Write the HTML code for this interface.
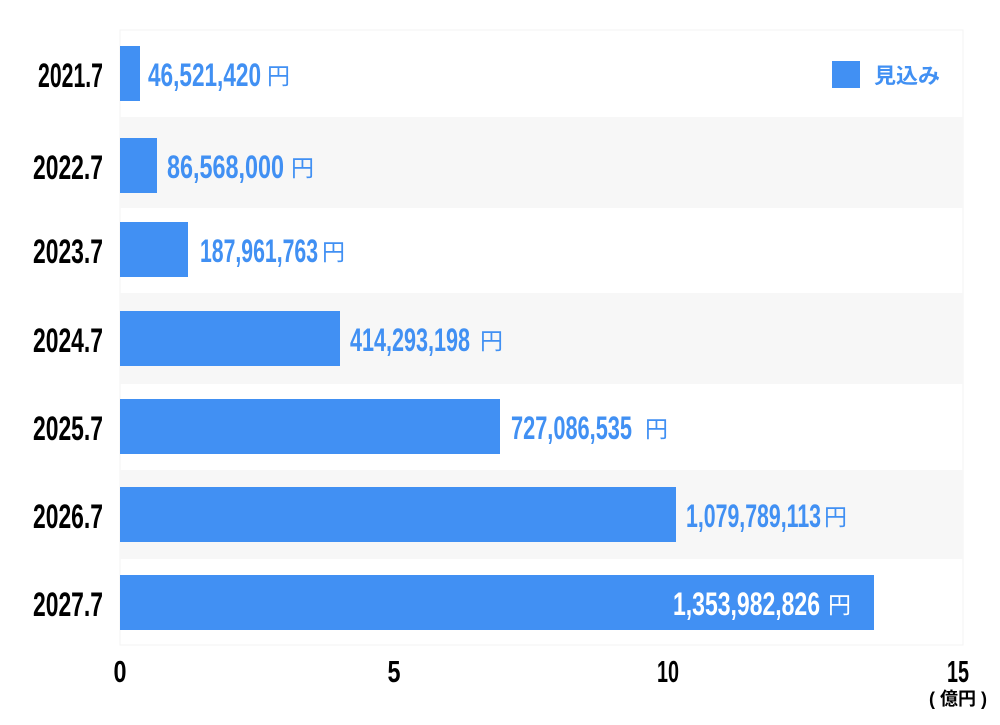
<!DOCTYPE html>
<html><head><meta charset="utf-8"><style>html,body{margin:0;padding:0;background:#fff}</style></head>
<body>
<svg width="1000" height="720" xmlns="http://www.w3.org/2000/svg" font-family="'Liberation Sans','Noto Sans CJK JP',sans-serif">
<rect x="120" y="30" width="843" height="615" fill="#fff" stroke="#f3f3f3"/>
<rect x="120" y="117" width="843" height="91" fill="#f7f7f7"/>
<rect x="120" y="293" width="843" height="91" fill="#f7f7f7"/>
<rect x="120" y="470" width="843" height="89" fill="#f7f7f7"/>
<g fill="#4190f3">
<rect x="120" y="46" width="20" height="55"/>
<rect x="120" y="138" width="37" height="55"/>
<rect x="120" y="222" width="68" height="55"/>
<rect x="120" y="311" width="220" height="55"/>
<rect x="120" y="399" width="380" height="55"/>
<rect x="120" y="487" width="556" height="55"/>
<rect x="120" y="575" width="754" height="55"/>
<rect x="832" y="61" width="28" height="27"/>
</g>
<g font-size="34" font-weight="bold" fill="#000" text-anchor="end">
<text x="103" y="87" textLength="65" lengthAdjust="spacingAndGlyphs">2021.7</text>
<text x="103" y="179" textLength="70" lengthAdjust="spacingAndGlyphs">2022.7</text>
<text x="103" y="263" textLength="70" lengthAdjust="spacingAndGlyphs">2023.7</text>
<text x="103" y="352" textLength="70" lengthAdjust="spacingAndGlyphs">2024.7</text>
<text x="103" y="440" textLength="70" lengthAdjust="spacingAndGlyphs">2025.7</text>
<text x="103" y="528" textLength="70" lengthAdjust="spacingAndGlyphs">2026.7</text>
<text x="103" y="616" textLength="70" lengthAdjust="spacingAndGlyphs">2027.7</text>
</g>
<g font-size="32" font-weight="bold" fill="#4190f3">
<text x="148" y="86" textLength="113" lengthAdjust="spacingAndGlyphs">46,521,420</text><text x="267" y="84" font-size="23" font-weight="normal">円</text>
<text x="167" y="178" textLength="117" lengthAdjust="spacingAndGlyphs">86,568,000</text><text x="291" y="176" font-size="23" font-weight="normal">円</text>
<text x="200" y="262" textLength="118" lengthAdjust="spacingAndGlyphs">187,961,763</text><text x="322" y="260" font-size="23" font-weight="normal">円</text>
<text x="350" y="351" textLength="120" lengthAdjust="spacingAndGlyphs">414,293,198</text><text x="480" y="349" font-size="23" font-weight="normal">円</text>
<text x="511" y="439" textLength="121" lengthAdjust="spacingAndGlyphs">727,086,535</text><text x="645" y="437" font-size="23" font-weight="normal">円</text>
<text x="686" y="527" textLength="135" lengthAdjust="spacingAndGlyphs">1,079,789,113</text><text x="824" y="525" font-size="23" font-weight="normal">円</text>
<text x="673" y="615" textLength="147" lengthAdjust="spacingAndGlyphs" fill="#fff">1,353,982,826</text><text x="828" y="613" font-size="23" font-weight="normal" fill="#fff">円</text>
<text x="874" y="83" font-size="21" textLength="66" lengthAdjust="spacingAndGlyphs">見込み</text>
</g>
<g font-size="31" font-weight="bold" fill="#000" text-anchor="middle">
<text x="120" y="682" textLength="13" lengthAdjust="spacingAndGlyphs">0</text>
<text x="394" y="682" textLength="13" lengthAdjust="spacingAndGlyphs">5</text>
<text x="668" y="682" textLength="22" lengthAdjust="spacingAndGlyphs">10</text>
<text x="958" y="682" textLength="22" lengthAdjust="spacingAndGlyphs">15</text>
<text x="958" y="705" font-size="18">( 億円 )</text>
</g>
</svg>
</body></html>
